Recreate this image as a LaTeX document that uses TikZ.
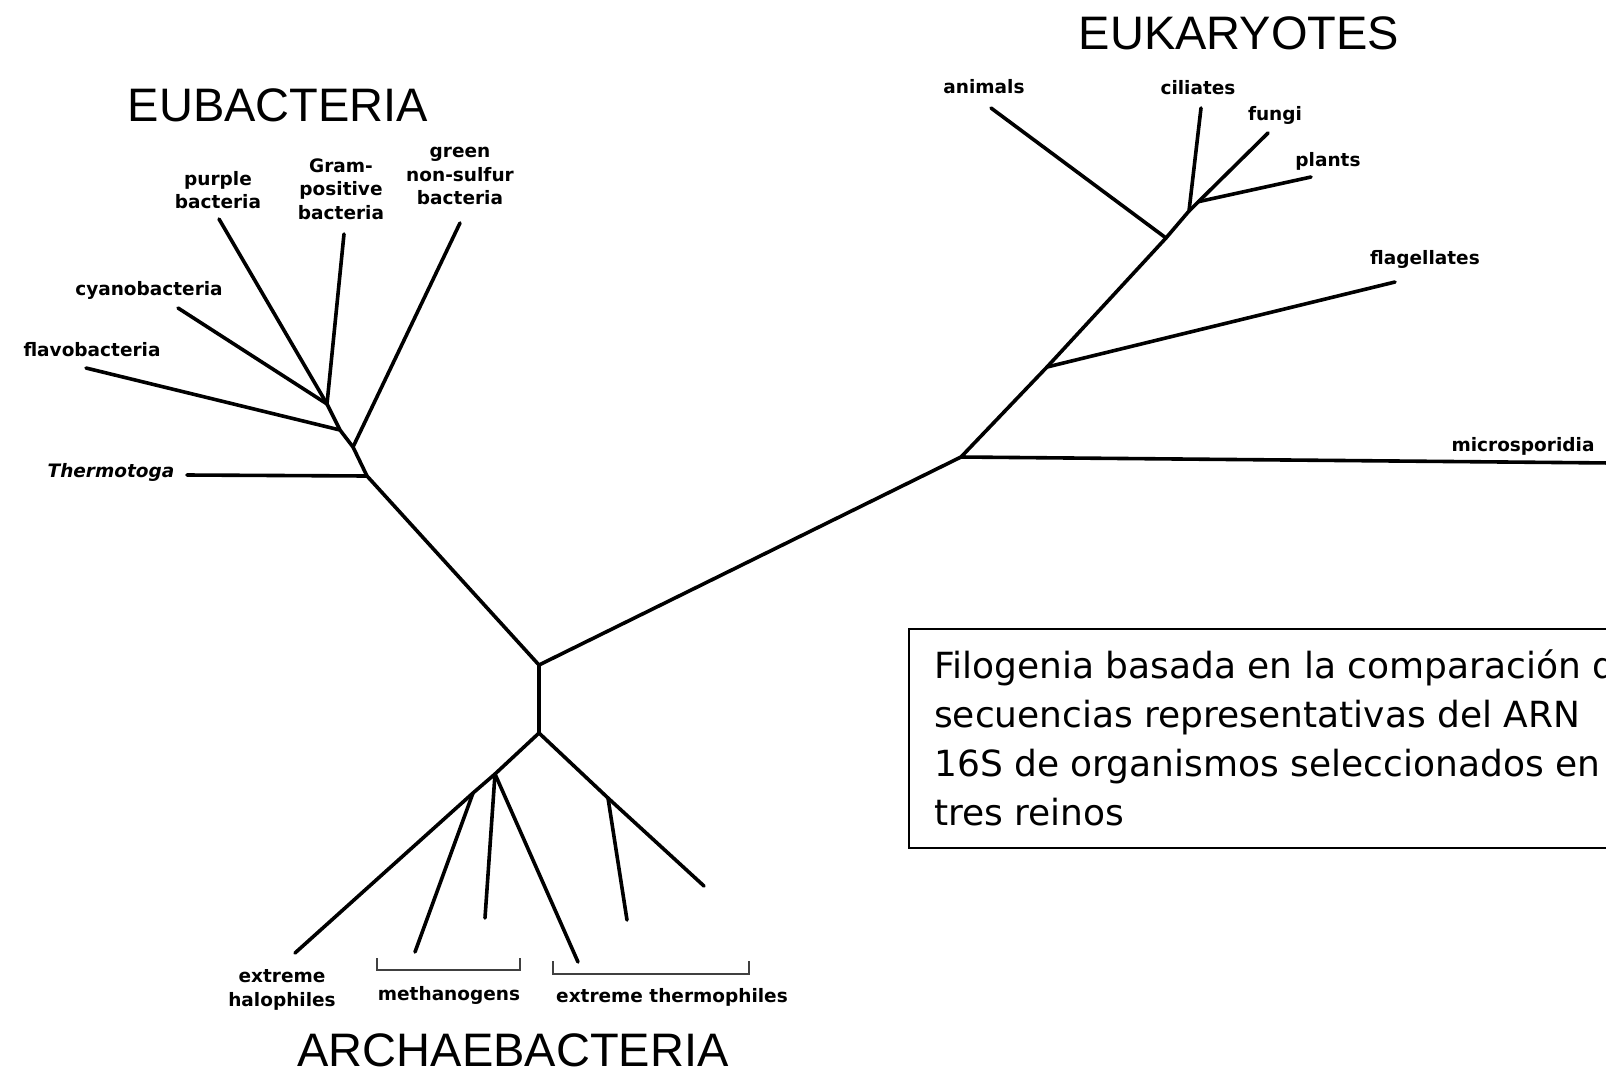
\documentclass[tikz,border=0pt]{standalone}
\usepackage{fontspec}
\usetikzlibrary{calc}
\newfontfamily\lblfont{DejaVu Sans}
\newfontfamily\ttlfont{Liberation Sans}
\newfontfamily\capfont{DejaVu Sans}
\begin{document}
\begin{tikzpicture}[x=1pt,y=-1pt,
  branch/.style={line width=3.6pt,line cap=round,line join=round,black},
  brk/.style={line width=2pt,black!75},
  lbl/.style={font=\lblfont\bfseries\fontsize{18.5}{23.5}\selectfont,inner sep=0pt,align=center},
  lbli/.style={font=\lblfont\bfseries\itshape\fontsize{18.5}{23.5}\selectfont,inner sep=0pt},
  ttl/.style={font=\ttlfont\fontsize{47}{56}\selectfont,inner sep=0pt},
  captxt/.style={font=\capfont\fontsize{36}{49}\selectfont,inner sep=0pt,align=left}]
\useasboundingbox (0,0) rectangle (1606,1074);
\clip (0,0) rectangle (1606,1074);
\fill[white] (0,0) rectangle (1606,1074);

% ---- junctions
\coordinate (R) at (539,665);
\coordinate (Rb) at (539,733);
% eubacteria
\coordinate (T) at (367,476);
\coordinate (G) at (353,447);
\coordinate (F) at (340,430);
\coordinate (U) at (327,404);
\coordinate (thermoE) at (187,475);
\coordinate (greenE) at (460,223);
\coordinate (flavoE) at (86,368);
\coordinate (cyanoE) at (178,308);
\coordinate (purpleE) at (219,219);
\coordinate (gramE) at (344,234);
% eukaryotes
\coordinate (MJ) at (961,457);
\coordinate (FJ) at (1047,367);
\coordinate (AJ) at (1166,238);
\coordinate (J1) at (1189,211);
\coordinate (animalsE) at (991,108);
\coordinate (ciliatesE) at (1201,108);
\coordinate (fungiE) at (1268,133);
\coordinate (P0) at ($(J1)!0.12!(fungiE)$);
\coordinate (plantsE) at (1311,177);
\coordinate (flagE) at (1395,282);
\coordinate (microE) at (1612,463);
% archaebacteria
\coordinate (A1) at (495,774);
\coordinate (A2) at (473,793);
\coordinate (A3) at (608,798);
\coordinate (halE) at (295,953);
\coordinate (meth1E) at (415,952);
\coordinate (meth2E) at (485,918);
\coordinate (longE) at (578,962);
\coordinate (th1E) at (627,920);
\coordinate (th2E) at (704,886);
% brackets
\coordinate (mb1) at (377,958);
\coordinate (mb2) at (377,970);
\coordinate (mb3) at (520,970);
\coordinate (mb4) at (520,958);
\coordinate (tb1) at (553,961);
\coordinate (tb2) at (553,974);
\coordinate (tb3) at (749,974);
\coordinate (tb4) at (749,961);

% ---- branches
\draw[branch] (R) -- (Rb);
\draw[branch] (R) -- (MJ) -- (FJ) -- (AJ) -- (J1) -- (ciliatesE);
\draw[branch] (J1) -- (fungiE);
\draw[branch] (P0) -- (plantsE);
\draw[branch] (AJ) -- (animalsE);
\draw[branch] (FJ) -- (flagE);
\draw[branch] (MJ) -- (microE);

\draw[branch] (R) -- (T) -- (G) -- (F) -- (U) -- (purpleE);
\draw[branch] (U) -- (cyanoE);
\draw[branch] (U) -- (gramE);
\draw[branch] (F) -- (flavoE);
\draw[branch] (G) -- (greenE);
\draw[branch] (T) -- (thermoE);

\draw[branch] (Rb) -- (A1) -- (A2) -- (halE);
\draw[branch] (A2) -- (meth1E);
\draw[branch] (A1) -- (meth2E);
\draw[branch] (A1) -- (longE);
\draw[branch] (Rb) -- (A3) -- (th2E);
\draw[branch] (A3) -- (th1E);

\draw[brk] (mb1) -- (mb2) -- (mb3) -- (mb4);
\draw[brk] (tb1) -- (tb2) -- (tb3) -- (tb4);

% ---- titles
\node[ttl] (eubt) at (278,105) {EUBACTERIA};
\node[ttl] (eukt) at (1239,33) {EUKARYOTES};
\node[ttl] (arct) at (513,1050) {ARCHAEBACTERIA};

% ---- labels
\node[lbli] (thermo) at (111,472) {Thermotoga};
\node[lbl] (flavo) at (92,350) {flavobacteria};
\node[lbl] (cyano) at (149,290) {cyanobacteria};
\node[lbl] (purple) at (218,190) {purple\\bacteria};
\node[lbl] (gram) at (341,189) {Gram-\\positive\\bacteria};
\node[lbl] (green) at (460,176) {green\\non-sulfur\\bacteria};

\node[lbl] (animals) at (984,87) {animals};
\node[lbl] (ciliates) at (1198,88) {ciliates};
\node[lbl] (fungi) at (1275,115) {fungi};
\node[lbl] (plants) at (1328,161) {plants};
\node[lbl] (flag) at (1425,259) {flagellates};
\node[lbl] (micro) at (1523,446) {microsporidia};

\node[lbl] (halo) at (282,990) {extreme\\halophiles};
\node[lbl] (metha) at (449,995) {methanogens};
\node[lbl] (therm) at (672,997) {extreme thermophiles};

% ---- caption box
\draw[line width=2pt] (909,629) rectangle (1640,848);
\node[captxt,anchor=north west] (caption) at (934,649)
  {Filogenia basada en la comparación de\\
   secuencias representativas del ARN\\
   16S de organismos seleccionados en\\
   tres reinos};
\end{tikzpicture}
\end{document}
